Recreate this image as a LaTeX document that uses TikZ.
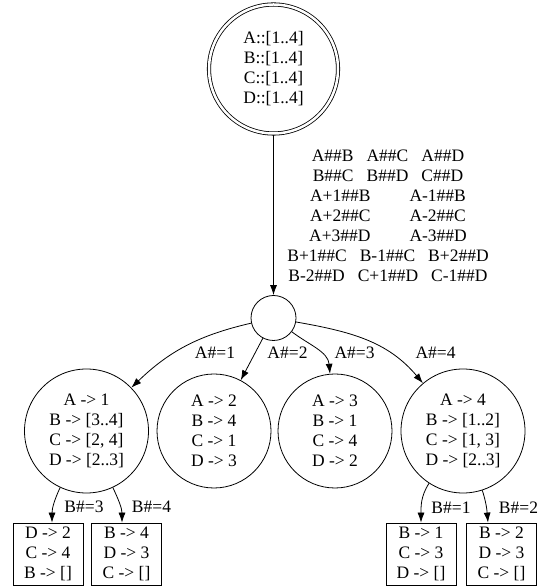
\documentclass[tikz,border=0pt]{standalone}
\usepackage{fontspec}
\setmainfont{Liberation Serif}
\usetikzlibrary{arrows.meta}
\tikzset{%
  >={Latex[length=10pt,width=7pt]}, % filled arrow heads
  graph text/.style={font=\fontsize{17.5}{20}\selectfont,align=center},
  domain node/.style={graph text,draw,circle,double,double distance=2.5pt,
    minimum size=129pt,inner sep=0pt,outer sep=2pt},
  choice node/.style={draw,circle,minimum size=45pt,inner sep=0pt},
  state node/.style={graph text,draw,circle,inner sep=0pt},
  leaf node/.style={graph text,draw,rectangle,minimum width=70pt,
    minimum height=62pt,inner sep=0pt},
  edge label/.style={graph text,inner sep=0pt}%
}

\begin{document}
\begin{tikzpicture}[x=1pt,y=1pt,line width=0.8pt]

%definitions
\def\rowA{155} % rank of the assignments
\def\rowB{32} % rank of the leaves
\def\gap{\hspace{13pt}} % space between constraints
\def\wgap{\hspace{39pt}} % wide space between constraints
\useasboundingbox (0,0) rectangle (538,586);
\node[domain node] (dom) at (273.5,517) {A::[1..4]\\B::[1..4]\\C::[1..4]\\D::[1..4]};
\node[choice node] (choice) at (273.5,268) {};
\node[state node,minimum size=124pt] (a1) at (86.5,\rowA)
  {A -> 1\\B -> [3..4]\\C -> [2, 4]\\D -> [2..3]};
\node[state node,minimum size=114pt] (a2) at (214,\rowA)
  {A -> 2\\B -> 4\\C -> 1\\D -> 3};
\node[state node,minimum size=114pt] (a3) at (335,\rowA)
  {A -> 3\\B -> 1\\C -> 4\\D -> 2};
\node[state node,minimum size=124pt] (a4) at (463,\rowA)
  {A -> 4\\B -> [1..2]\\C -> [1, 3]\\D -> [2..3]};
\node[leaf node] (b1) at (48,\rowB) {D -> 2\\C -> 4\\B -> []};
\node[leaf node] (b2) at (126.5,\rowB) {B -> 4\\D -> 3\\C -> []};
\node[leaf node] (b3) at (421,\rowB) {B -> 1\\C -> 3\\D -> []};
\node[leaf node] (b4) at (501.5,\rowB) {B -> 2\\D -> 3\\C -> []};
%edges
\draw[->] (dom) -- (choice);
\draw[->] (choice) to[out=193,in=44] (a1);
\draw[->] (choice) -- (a2);
\draw[->] (choice) to[out=-37,in=95] (a3);
\draw[->] (choice) to[out=-10,in=130] (a4);
\draw[->] (a1) to[out=-115,in=90] ([xshift=4pt]b1.north);
\draw[->] (a1) to[out=-65,in=90] ([xshift=-4.5pt]b2.north);
\draw[->] (a4) to[out=-123,in=90] (b3.north);
\draw[->] (a4) to[out=-72,in=95] ([xshift=-13.5pt]b4.north);
%labels
\node[edge label] (cons) at (388,370) {%
  A\#\#B\gap A\#\#C\gap A\#\#D\\
  B\#\#C\gap B\#\#D\gap C\#\#D\\
  A+1\#\#B\wgap A-1\#\#B\\
  A+2\#\#C\wgap A-2\#\#C\\
  A+3\#\#D\wgap A-3\#\#D\\
  B+1\#\#C\gap B-1\#\#C\gap B+2\#\#D\\
  B-2\#\#D\gap C+1\#\#D\gap C-1\#\#D};
\node[edge label] (lA1) at (215,233) {A\#=1};
\node[edge label] (lA2) at (287.5,233) {A\#=2};
\node[edge label] (lA3) at (354.5,233) {A\#=3};
\node[edge label] (lA4) at (435.5,233) {A\#=4};
\node[edge label] (lB3) at (84,79) {B\#=3};
\node[edge label] (lB4) at (151.5,79) {B\#=4};
\node[edge label] (lB1) at (451,78) {B\#=1};
\node[edge label] (lB2) at (518.5,78) {B\#=2};

\end{tikzpicture}
\end{document}
